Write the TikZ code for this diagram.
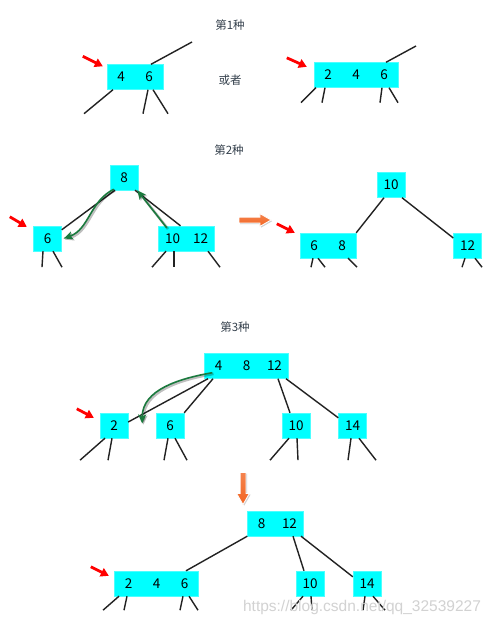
\documentclass[tikz,border=0pt]{standalone}
\usepackage{fontspec}
\setmainfont{Noto Sans CJK SC}
\newfontfamily\markfont{Liberation Sans}
\usepackage{xcolor}
\definecolor{boxCyan}{HTML}{00FFFF}
\definecolor{lineDark}{HTML}{222222}
\definecolor{pointRed}{HTML}{FF0000}
\definecolor{moveGreen}{HTML}{1B7A3E}
\definecolor{flowOrange}{HTML}{F26522}
\definecolor{titleText}{HTML}{34404C}
\definecolor{markGray}{HTML}{D2D2D2}
\usepackage{tikz}
\usetikzlibrary{
    arrows.meta,
    shapes.arrows,
    shadows,
    positioning,
    calc
}
% one key slot inside a box
\newcommand{\kcell}[1]{\makebox[28pt]{#1}}
\tikzset{
    % Key boxes - flat cyan
    keybox/.style={
        rectangle,
        fill=boxCyan,
        draw=boxCyan!70!white,
        line width=0.4pt,
        minimum height=25pt,
        inner sep=0pt,
        text=black,
        font=\fontsize{13.5pt}{16pt}\selectfont,
    },
    % Section captions
    caption/.style={
        text=titleText,
        font=\fontsize{11.5pt}{14pt}\selectfont,
    },
    % Tree links
    edge/.style={
        draw=lineDark,
        line width=1.4pt,
    },
    % Red pointer to the node in question
    pointer/.style={
        -{Triangle[length=8pt, width=9pt]},
        draw=pointRed,
        line width=2.8pt,
    },
    % Green move arrows with a soft shadow
    move/.style={
        -{Stealth[length=9pt, width=8pt, inset=2pt]},
        draw=moveGreen,
        line width=1.6pt,
        preaction={
            draw=black,
            opacity=0.25,
            line width=2.6pt,
            transform canvas={shift={(1.2,1.2)}},
        },
    },
    % Fat orange step arrow
    flow/.style={
        single arrow,
        single arrow head extend=3.5pt,
        single arrow tip angle=60,
        minimum height=32pt,
        inner sep=2.5pt,
        draw=white,
        line width=0.8pt,
        top color=flowOrange!80!white,
        bottom color=flowOrange,
        drop shadow={shadow xshift=1.2pt, shadow yshift=-1.2pt, opacity=0.35},
    },
    % Site mark
    watermark/.style={
        text=markGray,
        font=\markfont\fontsize{15.5pt}{18pt}\selectfont,
    },
}

\begin{document}
\begin{tikzpicture}[x=1pt, y=-1pt]
    \useasboundingbox (0,0) rectangle (494,626);
    \fill[white] (0,0) rectangle (494,626);

    % case 1
    \node (title1) [caption] at (230,25) {第1种};
    \node (or1) [caption] at (230,80) {或者};
    \node (k46) [keybox] at (135,77) {\kcell{4}\kcell{6}};
    \node (k246) [keybox] at (356,75) {\kcell{2}\kcell{4}\kcell{6}};
    \coordinate (up1) at (192,42);
    \coordinate (up2) at (416,46);
    \draw [edge] ($(k46.north)+(16,0)$) -- (up1);
    \draw [edge] ($(k246.north)+(30,0)$) -- (up2);

    % case 2
    \node (title2) [caption] at (229,150) {第2种};
    \node (b8) [keybox] at (124,177.5) {\kcell{8}};
    \node (b6) [keybox] at (47.5,238.5) {\kcell{6}};
    \node (b1012) [keybox] at (186.5,238.5) {\kcell{10}\kcell{12}};
    \node (r10) [keybox] at (391,185) {\kcell{10}};
    \node (r68) [keybox] at (328,245.5) {\kcell{6}\kcell{8}};
    \node (r12) [keybox] at (467.5,245.5) {\kcell{12}};
    \node (step1) [flow] at (252.5,220) {};

    \draw [edge] ($(b8.south)+(-9,0)$) -- ($(b6.north east)+(0,4)$);
    \draw [edge] ($(b8.south)+(11,0)$) -- ($(b1012.north)+(-6,0)$);
    \draw [edge] ($(r10.south)+(-7,0)$) -- (r68.north east);
    \draw [edge] ($(r10.south)+(11,0)$) -- ($(r12.west)+(0,-7.5)$);
    \draw [move] ($(b8.south west)+(4,-1)$) to[out=207, in=20] ($(b6.east)+(2,0)$);
    \draw [move] ($(b1012.north west)+(8.5,2)$) -- ($(b8.south east)+(-1,0)$);

    % case 3
    \node (title3) [caption] at (235,327) {第3种};
    \node (m4812) [keybox] at (246.5,366) {\kcell{4}\kcell{8}\kcell{12}};
    \node (m2) [keybox] at (114,425.5) {\kcell{2}};
    \node (m6) [keybox] at (170,425.5) {\kcell{6}};
    \node (m10) [keybox] at (296,425.5) {\kcell{10}};
    \node (m14) [keybox] at (352.5,425.5) {\kcell{14}};

    \draw [edge] ($(m4812.south)+(-38.5,0)$) -- ($(m2.east)+(0,-3.5)$);
    \draw [edge] ($(m4812.south)+(-33.5,0)$) -- (m6.north east);
    \draw [edge] ($(m4812.south)+(31.5,0)$) -- ($(m10.north)+(-6,0)$);
    \draw [edge] ($(m4812.south)+(39.5,0)$) -- ($(m14.north west)+(0,5)$);
    \draw [move] ($(m4812.south west)+(8,-6)$) to[out=190, in=90] ($(m2.east)+(14,-2)$);

    % after the merge
    \node (step2) [flow, rotate=-90] at (243,486) {};
    \node (d812) [keybox] at (275.5,523.5) {\kcell{8}\kcell{12}};
    \node (d246) [keybox] at (156.5,583.5) {\kcell{2}\kcell{4}\kcell{6}};
    \node (d10) [keybox] at (310,583.5) {\kcell{10}};
    \node (d14) [keybox] at (367,583.5) {\kcell{14}};

    \draw [edge] (d812.south west) -- ($(d246.north)+(29.5,0)$);
    \draw [edge] ($(d812.south)+(17.5,0)$) -- ($(d10.north)+(-6,0)$);
    \draw [edge] ($(d812.south)+(25.5,0)$) -- ($(d14.north west)+(0,6)$);

    % cut-off child links
    \foreach \n/\s/\dx/\dy in {
        k46/-22/-29/24, k46/13/-5/24, k46/18/15/24,
        k246/-40/-15/15, k246/-31/-3/15, k246/26/-2/15, k246/33/9/15,
        b6/-4.5/-1/16, b6/5.5/9/16,
        b1012/-20.5/-14/16, b1012/-12.5/0/16, b1012/21.5/12/16,
        r68/-15/-2/9, r68/-10/7/9, r68/20/9/9,
        r12/-2.5/-3/9, r12/7.5/7/9,
        m2/-9/-25/22, m2/-2/-4/22,
        m6/-2/-4/22, m6/5/12/22,
        m10/-7/-19/22, m10/1/1/22,
        m14/-1.5/-3/22, m14/6.5/17/22,
        d246/-37.5/-16/14, d246/-29.5/-3/14, d246/26.5/-3/14, d246/32.5/9/14,
        d10/-7/-12/14, d10/1/1/14,
        d14/-2/-2/14, d14/6/12/14}
        \draw [edge] ($(\n.south)+(\s,0)$) -- ++(\dx,\dy);

    % red pointers
    \foreach \n/\ax/\ay/\bx/\by in {
        k46/-24/-8/-4/2, k246/-27/-4.5/-7/4.5, b6/-23.5/-9/-6.5/1,
        r68/-23/-9/-5/0, m2/-23/-4/-6/5, d246/-23.5/-4/-5.5/5}
        \draw [pointer] ($(\n.north west)+(\ax,\ay)$) -- ($(\n.north west)+(\bx,\by)$);

    \node (mark) [watermark] at (362,607) {https://blog.csdn.net/qq\_32539227};
\end{tikzpicture}
\end{document}
